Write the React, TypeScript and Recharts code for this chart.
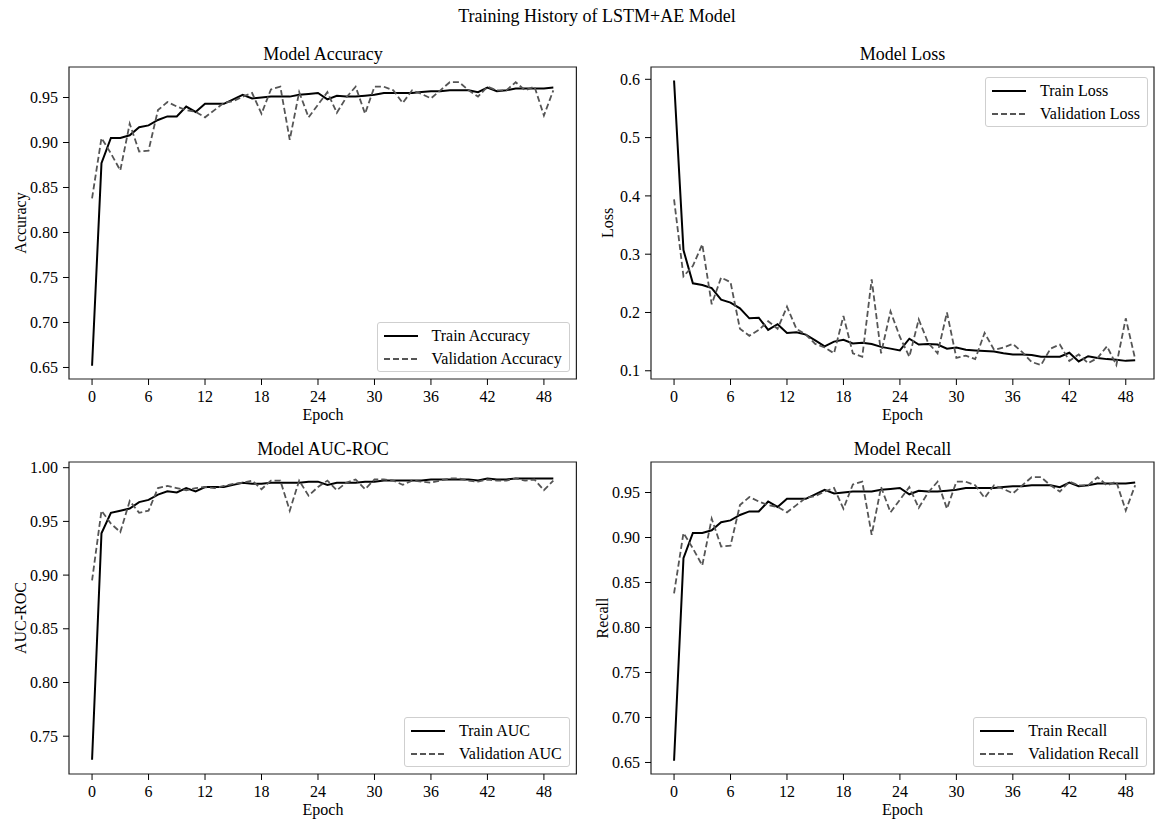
import React from "react";
import { LineChart, Line, XAxis, YAxis, ReferenceArea } from "recharts";

const EPOCH_TICKS = [0, 6, 12, 18, 24, 30, 36, 42, 48];

const trainAccuracy = [
  0.652, 0.877, 0.905, 0.905, 0.908, 0.917, 0.919, 0.925, 0.929, 0.929,
  0.94, 0.934, 0.943, 0.943, 0.943, 0.948, 0.953, 0.949, 0.95, 0.951,
  0.951, 0.951, 0.953, 0.954, 0.955, 0.948, 0.952, 0.951, 0.951, 0.952,
  0.953, 0.955, 0.955, 0.955, 0.955, 0.956, 0.957, 0.957, 0.958, 0.958,
  0.958, 0.956, 0.961, 0.957, 0.958, 0.96, 0.96, 0.96, 0.96, 0.961,
];
const valAccuracy = [
  0.838, 0.905, 0.888, 0.869, 0.921, 0.89, 0.891, 0.936, 0.945, 0.94,
  0.936, 0.934, 0.928, 0.936, 0.944, 0.946, 0.951, 0.955, 0.932, 0.959,
  0.962, 0.903, 0.956, 0.928, 0.942, 0.956, 0.933, 0.95, 0.962, 0.932,
  0.962, 0.962, 0.958, 0.944, 0.958, 0.954, 0.949, 0.958, 0.967, 0.967,
  0.958, 0.951, 0.962, 0.958, 0.958, 0.967, 0.958, 0.962, 0.93, 0.958,
];

const trainLoss = [
  0.598, 0.307, 0.25, 0.247, 0.242, 0.222, 0.217, 0.207, 0.19, 0.191,
  0.17, 0.18, 0.165, 0.166, 0.162, 0.152, 0.142, 0.15, 0.153, 0.147,
  0.148, 0.146, 0.141, 0.138, 0.135, 0.155, 0.145, 0.146, 0.145, 0.138,
  0.14, 0.136, 0.135, 0.134, 0.133, 0.13, 0.128, 0.128, 0.127, 0.124,
  0.124, 0.124, 0.131, 0.116, 0.125, 0.122, 0.12, 0.119, 0.117, 0.118,
];
const valLoss = [
  0.394, 0.262, 0.28, 0.317, 0.214, 0.26, 0.252, 0.172, 0.16, 0.17,
  0.185, 0.172, 0.21, 0.172, 0.162, 0.146, 0.14, 0.13, 0.194, 0.13,
  0.124, 0.257, 0.13, 0.202, 0.158, 0.124, 0.188, 0.148, 0.13, 0.2,
  0.122, 0.126, 0.12, 0.165, 0.136, 0.14, 0.146, 0.132, 0.115, 0.11,
  0.138, 0.145, 0.117, 0.128, 0.113, 0.122, 0.142, 0.11, 0.19, 0.12,
];

const trainAuc = [
  0.728, 0.939, 0.958, 0.96, 0.962, 0.968, 0.97, 0.975, 0.978, 0.977,
  0.981, 0.978, 0.982, 0.982, 0.982, 0.984, 0.986, 0.985, 0.985, 0.986,
  0.986, 0.986, 0.986, 0.987, 0.987, 0.984, 0.986, 0.986, 0.986, 0.987,
  0.987, 0.988, 0.988, 0.988, 0.988, 0.988, 0.989, 0.989, 0.989, 0.989,
  0.989, 0.988, 0.99, 0.989, 0.989, 0.99, 0.99, 0.99, 0.99, 0.99,
];
const valAuc = [
  0.895, 0.96, 0.948, 0.94, 0.969, 0.958, 0.96, 0.981, 0.983, 0.981,
  0.979, 0.981, 0.982, 0.981, 0.983, 0.985, 0.986, 0.988, 0.98, 0.988,
  0.988, 0.96, 0.988, 0.974, 0.982, 0.988, 0.979, 0.986, 0.989, 0.98,
  0.989, 0.989, 0.988, 0.984, 0.988, 0.987, 0.986, 0.988, 0.99, 0.99,
  0.988, 0.987, 0.989, 0.988, 0.988, 0.99, 0.988, 0.989, 0.979, 0.988,
];

const trainRecall = [
  0.652, 0.877, 0.905, 0.905, 0.908, 0.917, 0.919, 0.925, 0.929, 0.929,
  0.94, 0.934, 0.943, 0.943, 0.943, 0.948, 0.953, 0.949, 0.95, 0.951,
  0.951, 0.951, 0.953, 0.954, 0.955, 0.948, 0.952, 0.951, 0.951, 0.952,
  0.953, 0.955, 0.955, 0.955, 0.955, 0.956, 0.957, 0.957, 0.958, 0.958,
  0.958, 0.956, 0.961, 0.957, 0.958, 0.96, 0.96, 0.96, 0.96, 0.961,
];
const valRecall = [
  0.838, 0.905, 0.888, 0.869, 0.921, 0.89, 0.891, 0.936, 0.945, 0.94,
  0.936, 0.934, 0.928, 0.936, 0.944, 0.946, 0.951, 0.955, 0.932, 0.959,
  0.962, 0.903, 0.956, 0.928, 0.942, 0.956, 0.933, 0.95, 0.962, 0.932,
  0.962, 0.962, 0.958, 0.944, 0.958, 0.954, 0.949, 0.958, 0.967, 0.967,
  0.958, 0.951, 0.962, 0.958, 0.958, 0.967, 0.958, 0.962, 0.93, 0.958,
];

const ACC_TICKS = [0.65, 0.7, 0.75, 0.8, 0.85, 0.9, 0.95];
const LOSS_TICKS = [0.1, 0.2, 0.3, 0.4, 0.5, 0.6];
const AUC_TICKS = [0.75, 0.8, 0.85, 0.9, 0.95, 1.0];

const FONT = '"Liberation Serif", "Times New Roman", serif';
const YW = 62;
const XH = 50;
const MT = 10;
const RM = 2;

function LegendBox({ trainName, valName, pos }: any) {
  const rows = [
    { name: trainName, color: "#000", width: 2, dash: undefined },
    { name: valName, color: "#555", width: 1.8, dash: "6 3" },
  ];
  return (
    <div
      style={{
        position: "absolute",
        ...pos,
        border: "1px solid #cfcfcf",
        borderRadius: 3,
        background: "rgba(255,255,255,0.85)",
        padding: "1px 7px 1px 6px",
        fontSize: 16,
        whiteSpace: "nowrap",
      }}
    >
      {rows.map((r) => (
        <div key={r.name} style={{ display: "flex", alignItems: "center", height: 23 }}>
          <svg width={34} height={10}>
            <line x1={0} y1={5} x2={34} y2={5} stroke={r.color} strokeWidth={r.width} strokeDasharray={r.dash} />
          </svg>
          <span style={{ marginLeft: 14 }}>{r.name}</span>
        </div>
      ))}
    </div>
  );
}

function Panel(p: any) {
  const { title, yLabel, train, val, trainName, valName, yDomain, yTicks, digits, xDomain, left, top, width, height, labelGap, legendAt } = p;
  const data = train.map((t: number, i: number) => ({ epoch: i, train: t, val: val[i] }));
  const tickStyle = { fontSize: 16, fill: "#000", fontFamily: FONT };
  const legendPos =
    legendAt === "lr"
      ? { right: 1155 - (left + width) + 7, bottom: 821 - (top + height) + 7 }
      : { right: 1155 - (left + width) + 6, top: top + 10 };

  return (
    <>
      <div style={{ position: "absolute", left, top: top - 24, width, textAlign: "center", fontSize: 18, lineHeight: "22px" }}>
        {title}
      </div>
      <div
        style={{
          position: "absolute",
          left: left - labelGap,
          top: top + height / 2,
          transform: "translate(-50%, -50%) rotate(-90deg)",
          fontSize: 16,
          whiteSpace: "nowrap",
        }}
      >
        {yLabel}
      </div>
      <div style={{ position: "absolute", left: left - YW, top: top - MT }}>
        <LineChart
          width={YW + width + RM}
          height={MT + height + XH}
          data={data}
          margin={{ top: MT, right: RM, bottom: 0, left: 0 }}
        >
          <XAxis
            dataKey="epoch"
            type="number"
            domain={xDomain}
            ticks={EPOCH_TICKS}
            allowDataOverflow
            axisLine={false}
            tickSize={6}
            tickMargin={6}
            tickLine={{ stroke: "#000" }}
            tick={tickStyle}
            height={XH}
          />
          <YAxis
            type="number"
            domain={yDomain}
            ticks={yTicks}
            allowDataOverflow
            axisLine={false}
            tickSize={6}
            tickMargin={5}
            tickLine={{ stroke: "#000" }}
            tick={tickStyle}
            width={YW}
            tickFormatter={(v: number) => v.toFixed(digits)}
          />
          <Line type="linear" dataKey="train" stroke="#000" strokeWidth={2} dot={false} isAnimationActive={false} />
          <Line type="linear" dataKey="val" stroke="#555" strokeWidth={1.8} strokeDasharray="6 3" dot={false} isAnimationActive={false} />
          <ReferenceArea
            x1={xDomain[0]}
            x2={xDomain[1]}
            y1={yDomain[0]}
            y2={yDomain[1]}
            fill="none"
            stroke="#222"
            strokeWidth={1.2}
            ifOverflow="visible"
          />
        </LineChart>
      </div>
      <div style={{ position: "absolute", left: left, top: top + height + 26, width, textAlign: "center", fontSize: 16, lineHeight: "20px" }}>
        Epoch
      </div>
      <LegendBox trainName={trainName} valName={valName} pos={legendPos} />
    </>
  );
}

export default function App() {
  const col1 = { left: 69.3, width: 507.4, xDomain: [-2.45, 51.45] };
  const col2 = { left: 651, width: 503, xDomain: [-2.45, 51.0] };
  const row1 = { top: 67, height: 312 };
  const row2 = { top: 462, height: 312 };

  return (
    <div
      style={{
        position: "absolute",
        left: 0,
        top: 0,
        width: 1155,
        height: 821,
        background: "#fff",
        fontFamily: FONT,
        color: "#000",
        overflow: "hidden",
      }}
    >
      <div style={{ position: "absolute", left: 297, top: 5, width: 600, textAlign: "center", fontSize: 18, lineHeight: "22px" }}>
        Training History of LSTM+AE Model
      </div>
      <Panel
        {...col1}
        {...row1}
        title="Model Accuracy"
        yLabel="Accuracy"
        train={trainAccuracy}
        val={valAccuracy}
        trainName="Train Accuracy"
        valName="Validation Accuracy"
        yDomain={[0.6372, 0.9839]}
        yTicks={ACC_TICKS}
        digits={2}
        labelGap={48}
        legendAt="lr"
      />
      <Panel
        {...col2}
        {...row1}
        title="Model Loss"
        yLabel="Loss"
        train={trainLoss}
        val={valLoss}
        trainName="Train Loss"
        valName="Validation Loss"
        yDomain={[0.0859, 0.6211]}
        yTicks={LOSS_TICKS}
        digits={1}
        labelGap={43}
        legendAt="ur"
      />
      <Panel
        {...col1}
        {...row2}
        title="Model AUC-ROC"
        yLabel="AUC-ROC"
        train={trainAuc}
        val={valAuc}
        trainName="Train AUC"
        valName="Validation AUC"
        yDomain={[0.7148, 1.0053]}
        yTicks={AUC_TICKS}
        digits={2}
        labelGap={48}
        legendAt="lr"
      />
      <Panel
        {...col2}
        {...row2}
        title="Model Recall"
        yLabel="Recall"
        train={trainRecall}
        val={valRecall}
        trainName="Train Recall"
        valName="Validation Recall"
        yDomain={[0.6372, 0.9839]}
        yTicks={ACC_TICKS}
        digits={2}
        labelGap={48}
        legendAt="lr"
      />
    </div>
  );
}
